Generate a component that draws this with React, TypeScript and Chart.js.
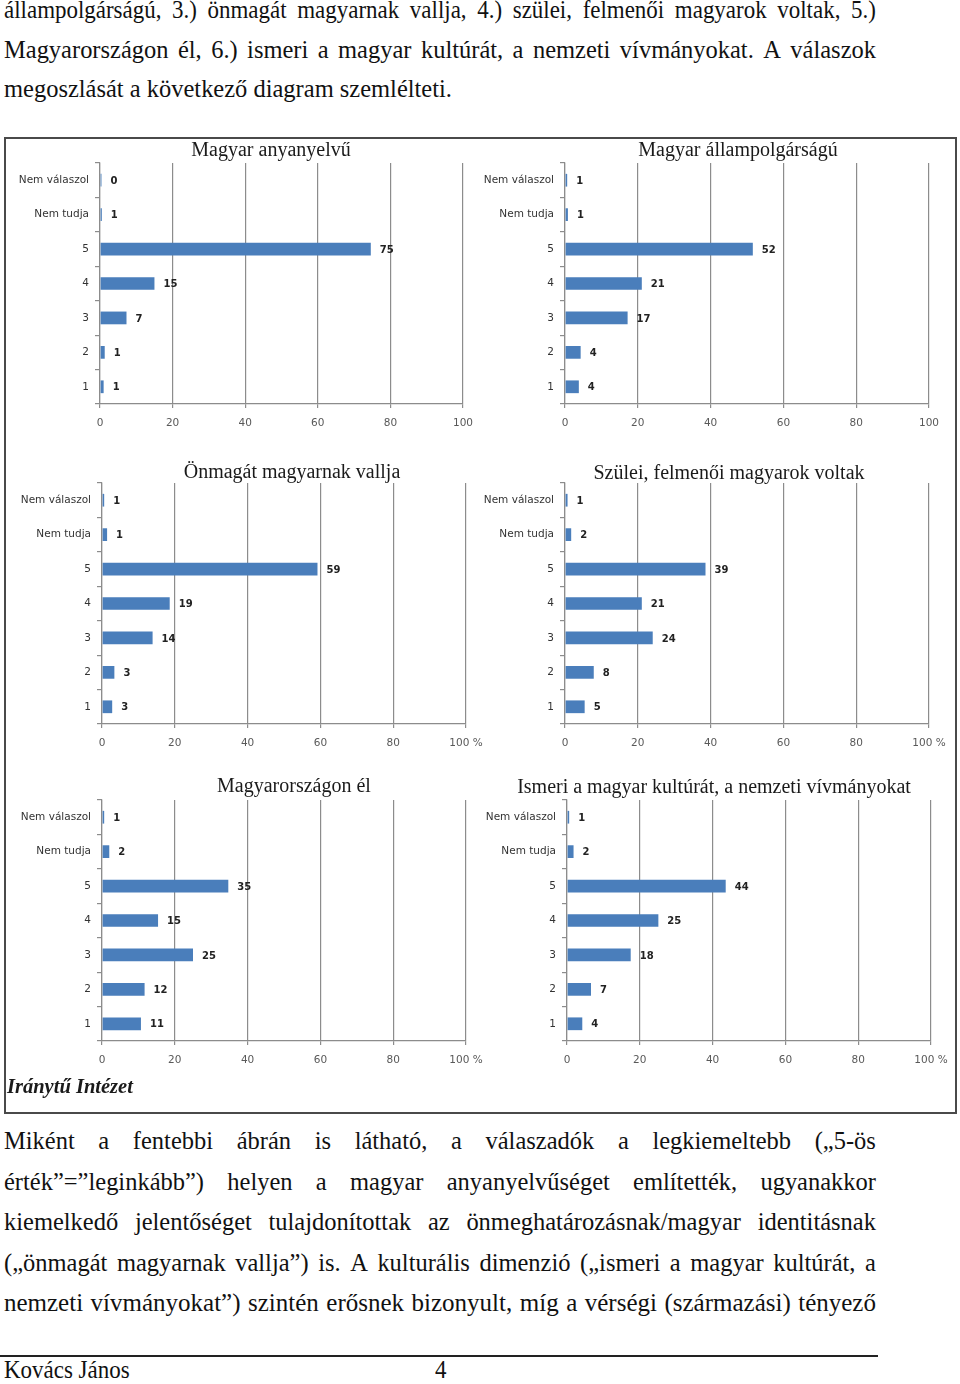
import React, { useEffect, useRef } from 'react';
import { Chart, registerables } from 'chart.js';

Chart.register(...registerables);

// ---------- data ----------
const categories = ['Nem válaszol', 'Nem tudja', '5', '4', '3', '2', '1'];
const xTickValues = [0, 20, 40, 60, 80, 100];

const titles = [
  'Magyar anyanyelvű',
  'Magyar állampolgárságú',
  'Önmagát magyarnak vallja',
  'Szülei, felmenői magyarok voltak',
  'Magyarországon él',
  'Ismeri a magyar kultúrát, a nemzeti vívmányokat',
];

const anyanyelvu = [0.4, 0.5, 74.6, 15.0, 7.3, 1.3, 1.0];
const allampolgarsagu = [0.6, 0.8, 51.6, 21.1, 17.2, 4.3, 3.8];
const onmagat = [0.6, 1.4, 59.2, 18.6, 13.9, 3.4, 2.8];
const szulei = [0.7, 1.7, 38.6, 21.1, 24.1, 7.9, 5.4];
const magyarorszagon = [0.6, 2.0, 34.7, 15.4, 25.0, 11.7, 10.7];
const ismeri = [0.6, 1.8, 43.6, 25.1, 17.5, 6.6, 4.2];

const seriesList = [anyanyelvu, allampolgarsagu, onmagat, szulei, magyarorszagon, ismeri];
const percentSuffix = [false, false, true, true, true, true];

// ---------- layout (page coordinates) ----------
const panelLayout = [
  { axisX: 100, x100: 463, top: 163, bottom: 404, titleX: 271, titleY: 156 },
  { axisX: 565, x100: 929, top: 163, bottom: 404, titleX: 738, titleY: 156 },
  { axisX: 102, x100: 466, top: 483, bottom: 724, titleX: 292, titleY: 478 },
  { axisX: 565, x100: 929, top: 483, bottom: 724, titleX: 729, titleY: 479 },
  { axisX: 102, x100: 466, top: 800, bottom: 1041, titleX: 294, titleY: 792 },
  { axisX: 567, x100: 931, top: 800, bottom: 1041, titleX: 714, titleY: 793 },
];

const topLines = [
  { text: 'állampolgárságú, 3.) önmagát magyarnak vallja, 4.) szülei, felmenői magyarok voltak, 5.)', baseline: 19, justify: true, sx: 0.9 },
  { text: 'Magyarországon él, 6.) ismeri a magyar kultúrát, a nemzeti vívmányokat. A válaszok', baseline: 58.5, justify: true, sx: 0.96 },
  { text: 'megoszlását a következő diagram szemlélteti.', baseline: 98, justify: false, sx: 0.96 },
];
const bottomLines = [
  { text: 'Miként a fentebbi ábrán is látható, a válaszadók a legkiemeltebb („5-ös', baseline: 1150, justify: true, sx: 0.96 },
  { text: 'érték”=”leginkább”) helyen a magyar anyanyelvűséget említették, ugyanakkor', baseline: 1190.5, justify: true, sx: 0.96 },
  { text: 'kiemelkedő jelentőséget tulajdonítottak az önmeghatározásnak/magyar identitásnak', baseline: 1231, justify: true, sx: 0.96 },
  { text: '(„önmagát magyarnak vallja”) is. A kulturális dimenzió („ismeri a magyar kultúrát, a', baseline: 1271.5, justify: true, sx: 0.96 },
  { text: 'nemzeti vívmányokat”) szintén erősnek bizonyult, míg a vérségi (származási) tényező', baseline: 1312, justify: true, sx: 0.98 },
];

const YW = 100;
const TOPPAD = 40;
const RIGHTPAD = 30;
const XH = 30;
const BOTPAD = 5;

const GRID = '#8c8c8c';
const BAR = '#4A7EBB';

const titlePlugin = {
  id: 'panelTitle',
  afterDraw(chart: any) {
    const o = chart.options.plugins.panelTitle;
    if (!o) return;
    const ctx = chart.ctx;
    ctx.save();
    ctx.font = '20px "Liberation Serif", serif';
    ctx.fillStyle = '#1a1a1a';
    ctx.textAlign = 'center';
    ctx.textBaseline = 'alphabetic';
    ctx.fillText(o.text, o.x, o.y);
    ctx.restore();
  },
};

const valueLabelPlugin = {
  id: 'valueLabels',
  afterDatasetsDraw(chart: any) {
    const ctx = chart.ctx;
    ctx.save();
    ctx.font = 'bold 10px "DejaVu Sans", sans-serif';
    ctx.fillStyle = '#222222';
    ctx.textAlign = 'left';
    ctx.textBaseline = 'middle';
    chart.data.datasets.forEach((ds: any, di: number) => {
      const meta = chart.getDatasetMeta(di);
      meta.data.forEach((bar: any, i: number) => {
        ctx.fillText(String(Math.round(ds.data[i])), bar.x + 9, bar.y + 1);
      });
    });
    ctx.restore();
  },
};

function Panel({ index }: { index: number }) {
  const ref = useRef<HTMLCanvasElement>(null);
  const L = panelLayout[index];
  const plotW = L.x100 - L.axisX;
  const plotH = L.bottom - L.top;
  const left = L.axisX - YW;
  const top = L.top - TOPPAD;
  const width = YW + plotW + RIGHTPAD;
  const height = TOPPAD + plotH + XH + BOTPAD;

  useEffect(() => {
    const chart = new Chart(ref.current as HTMLCanvasElement, {
      type: 'bar',
      data: {
        labels: categories,
        datasets: [
          {
            data: seriesList[index],
            backgroundColor: BAR,
            borderWidth: 0,
            barPercentage: 0.37,
            categoryPercentage: 1,
          },
        ],
      },
      options: {
        indexAxis: 'y',
        responsive: false,
        animation: false,
        devicePixelRatio: 1,
        layout: { padding: { top: TOPPAD, right: RIGHTPAD, bottom: BOTPAD, left: 0 } },
        plugins: {
          legend: { display: false },
          title: { display: false },
          tooltip: { enabled: false },
          panelTitle: { text: titles[index], x: L.titleX - left, y: L.titleY - top },
        } as any,
        scales: {
          x: {
            type: 'linear',
            min: 0,
            max: 100,
            afterFit: (s: any) => { s.height = XH; },
            afterBuildTicks: (s: any) => { s.ticks = xTickValues.map((v) => ({ value: v })); },
            ticks: {
              padding: 9,
              color: '#595959',
              font: { family: '"DejaVu Sans", sans-serif', size: 10.5 },
              maxRotation: 0,
              callback: (v: any) => (v === 100 && percentSuffix[index] ? '100 %' : String(v)),
            },
            grid: { color: GRID, lineWidth: 1.2, tickLength: 4, tickColor: GRID, drawTicks: true },
            border: { display: true, color: GRID, width: 1.2 },
          },
          y: {
            type: 'category',
            afterFit: (s: any) => { s.width = YW; },
            ticks: {
              padding: 6,
              color: '#333333',
              font: { family: '"DejaVu Sans", sans-serif', size: 10.5 },
            },
            grid: { offset: true, drawOnChartArea: false, drawTicks: true, tickLength: 5, color: GRID, lineWidth: 1.2 },
            border: { display: true, color: GRID, width: 1.2 },
          },
        },
      } as any,
      plugins: [titlePlugin, valueLabelPlugin],
    });
    return () => chart.destroy();
  }, []);

  return (
    <canvas
      ref={ref}
      width={width}
      height={height}
      style={{ position: 'absolute', left, top, width, height }}
    />
  );
}

const FONT_SIZE = 25.5;
const LINE_H = 30;
const BASE_OFF = (LINE_H - FONT_SIZE * 1.107) / 2 + FONT_SIZE * 0.891;

const textBase = (sx: number): React.CSSProperties => ({
  position: 'absolute',
  height: LINE_H,
  lineHeight: `${LINE_H}px`,
  fontSize: FONT_SIZE,
  fontFamily: '"Liberation Serif", serif',
  color: '#111',
  whiteSpace: 'pre',
  transform: `scaleX(${sx})`,
  transformOrigin: 'left top',
});

function TextLine({ text, baseline, justify, sx }: { text: string; baseline: number; justify: boolean; sx: number }) {
  const style: React.CSSProperties = {
    ...textBase(sx),
    left: 4,
    top: baseline - BASE_OFF,
    width: 872 / sx,
  };
  if (!justify) return <div style={style}>{text}</div>;
  const words = text.split(' ');
  return (
    <div style={{ ...style, display: 'flex', justifyContent: 'space-between' }}>
      {words.map((w, i) => (
        <span key={i}>{w}</span>
      ))}
    </div>
  );
}

export default function App() {
  return (
    <div style={{ position: 'absolute', left: 0, top: 0, width: 960, height: 1384, background: '#fff', overflow: 'hidden' }}>
      {topLines.map((l, i) => (
        <TextLine key={'t' + i} {...l} />
      ))}
      <div
        style={{
          position: 'absolute',
          left: 4,
          top: 137,
          width: 953,
          height: 977,
          border: '2px solid #4a4a4a',
          boxSizing: 'border-box',
        }}
      />
      {panelLayout.map((_, i) => (
        <Panel key={i} index={i} />
      ))}
      <div
        style={{
          position: 'absolute',
          left: 7,
          top: 1093 - 18,
          fontFamily: '"Liberation Serif", serif',
          fontStyle: 'italic',
          fontWeight: 'bold',
          fontSize: 20.5,
          lineHeight: '22px',
          color: '#1a1a1a',
          whiteSpace: 'pre',
        }}
      >
        Iránytű Intézet
      </div>
      {bottomLines.map((l, i) => (
        <TextLine key={'b' + i} {...l} />
      ))}
      <div style={{ position: 'absolute', left: 0, top: 1355, width: 878, height: 1.5, background: '#222' }} />
      <div style={{ ...textBase(0.9), left: 4, top: 1379 - BASE_OFF }}>Kovács János</div>
      <div style={{ ...textBase(0.9), left: 435, top: 1379 - BASE_OFF }}>4</div>
    </div>
  );
}
